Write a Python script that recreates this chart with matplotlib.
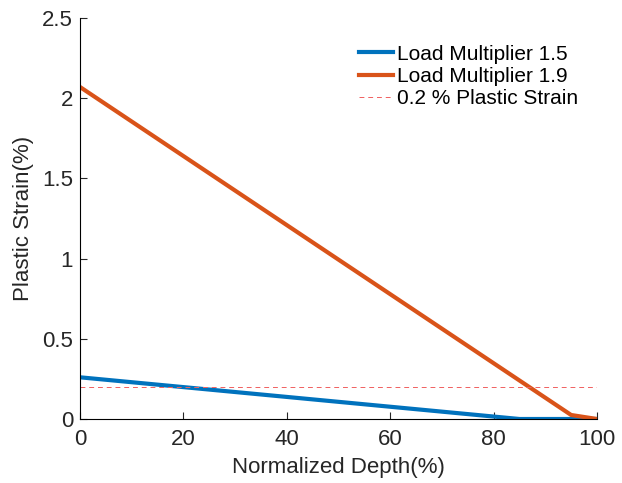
import numpy as np
import matplotlib.pyplot as plt

plt.rcParams['font.family'] = ['Liberation Sans', 'DejaVu Sans']

# data
depth_15 = [0, 85, 100]
strain_15 = [0.26, 0.0, 0.0]
depth_19 = [0, 95, 100]
strain_19 = [2.07, 0.025, 0.0]
limit_x = [0, 100]
limit_y = [0.2, 0.2]

fig = plt.figure(figsize=(6.22, 4.83), dpi=100)
ax = fig.add_axes([0.1286, 0.1325, 0.8312, 0.8302])

ax.plot(depth_15, strain_15, color='#0072BD', lw=3, label='Load Multiplier 1.5')
ax.plot(depth_19, strain_19, color='#D95319', lw=3, label='Load Multiplier 1.9')
ax.plot(limit_x, limit_y, color='#f06060', lw=0.7, dashes=[5, 4], label='0.2 % Plastic Strain')

ax.set_xlim(0, 100)
ax.set_ylim(0, 2.5)
ax.set_xticks([0, 20, 40, 60, 80, 100])
ax.set_yticks([0, 0.5, 1, 1.5, 2, 2.5])
ax.set_yticklabels(['0', '0.5', '1', '1.5', '2', '2.5'])
ax.spines['top'].set_visible(False)
ax.spines['right'].set_visible(False)
ax.tick_params(direction='in', length=5, labelsize=16, colors='#262626')
ax.tick_params(axis='x', pad=7)
ax.tick_params(axis='y', pad=5)
ax.set_xlabel('Normalized Depth(%)', fontsize=16, color='#262626', labelpad=5)
ax.set_ylabel('Plastic Strain(%)', fontsize=16, color='#262626', labelpad=6)

leg = ax.legend(loc='upper right', frameon=False, fontsize=15, handlelength=1.65,
                handletextpad=0.2, labelspacing=0.15, bbox_to_anchor=(1.0, 0.98))

fig.savefig('out.png', dpi=100)
